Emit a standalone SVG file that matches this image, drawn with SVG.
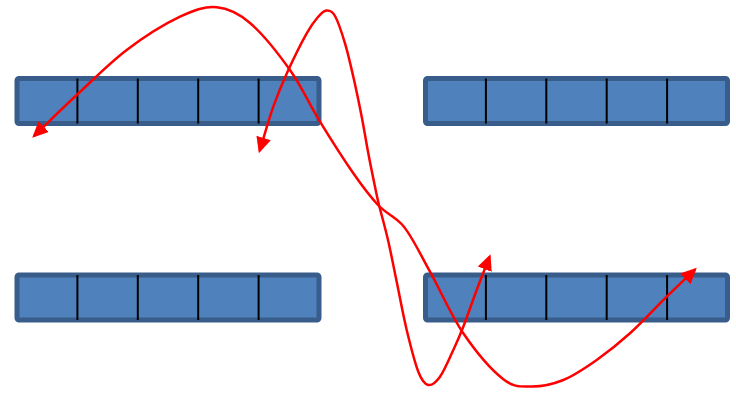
<svg xmlns="http://www.w3.org/2000/svg" width="736" height="393" viewBox="0 0 736 393">
  <style>
    .bar { fill: #4F81BD; stroke: #385D8A; stroke-width: 5; }
    .div { stroke: #000000; stroke-width: 2; }
    .conn { fill: none; stroke: #FF0000; stroke-width: 2.5; }
  </style>
  <defs>
    <marker id="arrow" markerUnits="userSpaceOnUse" markerWidth="18" markerHeight="18" refX="13.5" refY="7.5" orient="auto-start-reverse">
      <path d="M0,0 L16,7.5 L0,15 z" fill="#FF0000"/>
    </marker>
  </defs>
  <rect width="736" height="393" fill="#FFFFFF"/>
  <g id="array-top-left">
    <rect class="bar" x="17" y="78.5" width="302" height="45" rx="2"/>
    <line class="div" x1="77.4" y1="78.5" x2="77.4" y2="123.5"/>
    <line class="div" x1="137.8" y1="78.5" x2="137.8" y2="123.5"/>
    <line class="div" x1="198.2" y1="78.5" x2="198.2" y2="123.5"/>
    <line class="div" x1="258.6" y1="78.5" x2="258.6" y2="123.5"/>
  </g>
  <g id="array-top-right">
    <rect class="bar" x="425.5" y="78.5" width="302" height="45" rx="2"/>
    <line class="div" x1="485.9" y1="78.5" x2="485.9" y2="123.5"/>
    <line class="div" x1="546.3" y1="78.5" x2="546.3" y2="123.5"/>
    <line class="div" x1="606.7" y1="78.5" x2="606.7" y2="123.5"/>
    <line class="div" x1="667.1" y1="78.5" x2="667.1" y2="123.5"/>
  </g>
  <g id="array-bottom-left">
    <rect class="bar" x="17" y="275" width="302" height="45" rx="2"/>
    <line class="div" x1="77.4" y1="275" x2="77.4" y2="320"/>
    <line class="div" x1="137.8" y1="275" x2="137.8" y2="320"/>
    <line class="div" x1="198.2" y1="275" x2="198.2" y2="320"/>
    <line class="div" x1="258.6" y1="275" x2="258.6" y2="320"/>
  </g>
  <g id="array-bottom-right">
    <rect class="bar" x="425.5" y="275" width="302" height="45" rx="2"/>
    <line class="div" x1="485.9" y1="275" x2="485.9" y2="320"/>
    <line class="div" x1="546.3" y1="275" x2="546.3" y2="320"/>
    <line class="div" x1="606.7" y1="275" x2="606.7" y2="320"/>
    <line class="div" x1="667.1" y1="275" x2="667.1" y2="320"/>
  </g>
  <g id="connectors">
    <path class="conn" marker-start="url(#arrow)" marker-end="url(#arrow)" d="M34,136 C48.2,122.3 61.25,109.3 76.7,95 C92.15,80.67 109.5,63.05 126.7,50 C143.9,36.95 165,23.8 180,16.7 C195,9.58 205,6.25 216.7,7.3 C228.4,8.35 237.8,12.55 250,23 C262.2,33.45 278.3,53.55 290,70 C301.7,86.45 309.45,104.5 320,121.7 C330.55,138.9 343.6,159.4 353.3,173.3 C363,187.2 369.7,196.1 378,205 C386,213.5 394,216 402,224.5 C411,234 420,253.9 430,271.7 C440,289.5 451.1,315.4 463.3,333.3 C475.5,351.2 491.7,370.1 503,379 C514.3,387.9 521,386.3 531,386.5 C541,386.7 552.35,384.4 563.3,380 C574.25,375.6 585.6,367.8 596.7,360 C607.8,352.2 618.3,343.85 630,333.3 C641.7,322.75 655.9,307.3 666.7,296.7 C677.5,286.1 685.6,278.6 695,269.5"/>
    <path class="conn" marker-start="url(#arrow)" marker-end="url(#arrow)" d="M259.6,150.8 C264.2,136.1 268.5,120.2 273.3,106.7 C278.1,93.2 282.7,82.2 288.3,70 C293.9,57.8 301.75,42.1 306.7,33.3 C311.65,24.5 314.7,20.8 318,17 C321.3,13.2 323.7,10.7 326.5,10.5 C329.3,10.3 331.9,10.5 335,16 C338.1,21.5 341.95,33.2 345,43.3 C348.05,53.4 350.5,64.5 353.3,76.7 C356.1,88.9 359.2,103.9 361.7,116.7 C364.2,129.5 366.1,141.6 368.3,153.3 C370.5,165 373.2,178.1 375,186.7 C376.8,195.3 376.8,196.1 379,205 C381.2,213.9 385,227 388,240 C391,253 393.9,268.3 397,283.3 C400.1,298.3 403.15,315.3 406.7,330 C410.25,344.7 414.7,362.5 418.3,371.7 C421.9,380.9 424.7,384.2 428.3,385 C431.9,385.8 435.8,382.5 440,376.7 C444.2,370.9 449.4,358.3 453.3,350 C457.2,341.7 459.4,336.7 463.3,326.7 C467.2,316.7 472.3,301.7 476.7,290 C481.1,278.3 485.3,267.7 489.6,256.6"/>
  </g>
</svg>
